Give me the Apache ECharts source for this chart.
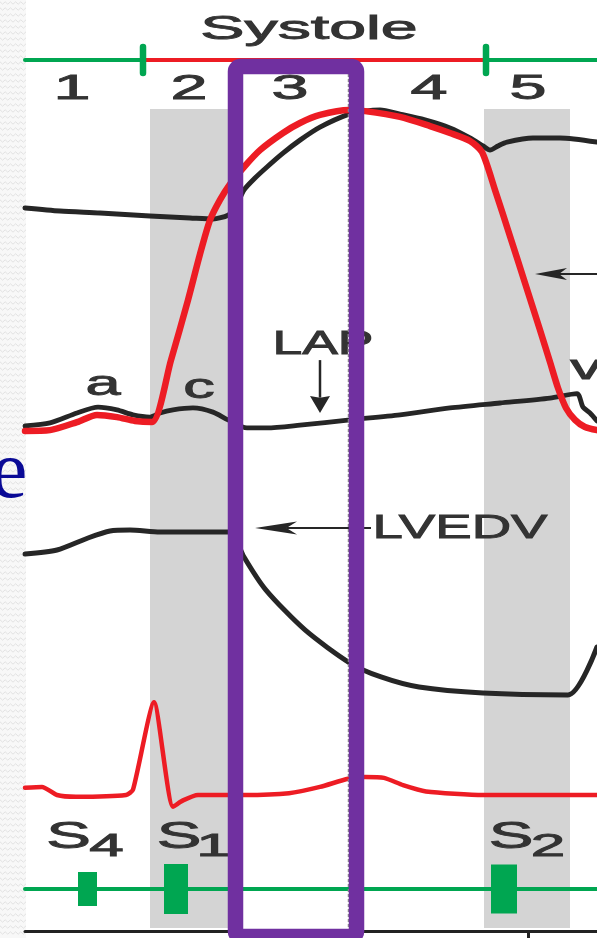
<!DOCTYPE html>
<html>
<head>
<meta charset="utf-8">
<script src="https://cdn.jsdelivr.net/npm/echarts@6/dist/echarts.min.js"></script>
<style>
  html, body { margin: 0; padding: 0; background: #ffffff; }
  #chart { width: 597px; height: 938px; }
</style>
</head>
<body>
<div id="chart"></div>
<script>
// ---- time base (arbitrary units across one cardiac cycle) ----
const T_MAX = 572;

// systole boundaries on the phase bar (mitral closure -> aortic closure)
const systole = [118, 461];
// isovolumic phases (grey bands): contraction and relaxation
const isoBands = [[125, 203], [459, 545]];
// highlighted phase (rapid ejection)
const highlight = [203, 324];

// phase numbers and their positions
const phaseNames = ['1', '2', '3', '4', '5'];
const phaseT = [47, 164, 265, 404, 503];

// pressures (mmHg)
const aorticPressure = [
  [0, 84.6], [35, 83.5], [75, 82.8], [125, 81.7], [165, 81.0], [188, 80.6],
  [203, 82.0], [210, 84.5], [219, 91.1], [230, 95.4], [242, 99.4], [258, 104.4], [275, 109.1],
  [295, 113.8], [324, 118.5], [340, 119.6], [355, 120.0], [375, 118.5], [400, 116.4],
  [425, 113.5], [445, 109.9], [458, 107.0], [465, 105.5], [473, 107.0], [482, 108.4],
  [508, 109.9], [535, 109.9], [572, 108.4]
];
const atrialPressure = [
  [0, 5.8], [25, 6.9], [52, 10.5], [73, 12.6], [92, 11.6], [108, 9.8], [125, 9.0],
  [135, 10.5], [148, 11.6], [168, 12.3], [188, 10.8], [203, 8.0], [222, 5.1], [242, 5.1],
  [275, 6.1], [325, 8.0], [375, 9.8], [425, 12.3], [475, 14.1], [525, 15.9], [552, 17.5],
  [558, 12.6], [565, 10.5], [572, 7.6]
];
const ventricularPressure = [
  [0, 4.0], [25, 4.3], [52, 7.2], [72, 9.8], [92, 9.0], [110, 7.6], [127, 7.2],
  [146, 29.6], [163, 51.3], [175, 67.9], [185, 80.2], [195, 87.5], [205, 93.2],
  [219, 99.4], [235, 105.5], [258, 111.7], [275, 115.3], [295, 118.2], [324, 120.0],
  [340, 119.6], [375, 117.5], [405, 114.2], [425, 111.7], [445, 108.8], [457, 104.8],
  [470, 91.1], [485, 74.4], [500, 57.5], [515, 40.5], [525, 28.9], [533, 19.5],
  [541, 12.3], [550, 8.0], [560, 5.4], [572, 4.3]
];

// left ventricular volume (mL)
const lvVolume = [
  [0, 110.8], [32, 112.5], [63, 117.5], [85, 120.4], [105, 120.8], [135, 120.0],
  [203, 120.0], [211, 116.7], [219, 109.6], [241, 95.8], [280, 79.2], [325, 65.4],
  [356, 59.6], [394, 55.4], [458, 52.9], [543, 52.1], [572, 72.1]
];

// ECG (mV)
const ecg = [
  [0, 0.08], [17, 0.09], [32, 0.0], [51, -0.02], [101, 0.0], [108, 0.06], [129, 1.03],
  [148, -0.13], [158, -0.06], [173, 0.0], [219, 0.0], [264, 0.02], [295, 0.09],
  [323, 0.18], [340, 0.20], [359, 0.19], [378, 0.11], [401, 0.04], [458, 0.0], [572, 0.0]
];

// heart sounds: [start, end, amplitude]
const heartSounds = [[53, 72, 17], [139, 163, 25], [466, 492, 24.5]];
const soundNames = ['4', '1', '2'];

// time-axis marker
const timeTicks = [503];

const GREEN = '#00a651', RED = '#ed1c24', INK = '#262626', TEXT = '#333333';
const PURPLE = '#7030a0', BAND = '#d4d4d4';
const FONT = '"Liberation Sans", Arial, Helvetica, sans-serif';

const chart = echarts.init(document.getElementById('chart'));

const L = 25;
const grids = [
  { left: L, right: 0, top: 109, height: 819 }, // 0 bands
  { left: L, right: 0, top: 47, height: 26 },   // 1 phase bar
  { left: L, right: 0, top: 110, height: 332 }, // 2 pressure
  { left: L, right: 0, top: 508, height: 216 }, // 3 volume
  { left: L, right: 0, top: 660, height: 180 }, // 4 ecg
  { left: L, right: 0, top: 859, height: 60 },  // 5 heart sounds
  { left: L, right: 0, top: 900, height: 31 }   // 6 time axis
];
const yRanges = [[0, 1], [-1, 1], [0, 120], [40, 130], [-0.5, 1.5], [-30, 30], [0, 1]];

const xAxes = grids.map((g, i) => ({
  type: 'value', gridIndex: i, min: 0, max: T_MAX, show: i === 6,
  axisLine: { show: true, onZero: false, lineStyle: { color: '#222', width: 3 } },
  axisTick: { show: true, customValues: timeTicks, interval: 503, length: 10, lineStyle: { color: '#222', width: 3 } },
  axisLabel: { show: false }, splitLine: { show: false }
}));
const yAxes = yRanges.map((r, i) => ({
  type: 'value', gridIndex: i, min: r[0], max: r[1], show: false, splitLine: { show: false }
}));

function trace(name, grid, data, color, width, smooth) {
  return {
    name, type: 'line', xAxisIndex: grid, yAxisIndex: grid, data,
    symbol: 'none', smooth: smooth, clip: false, silent: true,
    lineStyle: { color, width, cap: 'round', join: 'round' }
  };
}

const series = [
  {
    type: 'custom', xAxisIndex: 0, yAxisIndex: 0, data: isoBands, silent: true, z: 1,
    encode: { x: [0, 1] },
    renderItem: (params, api) => {
      const x0 = api.coord([api.value(0), 0])[0];
      const x1 = api.coord([api.value(1), 0])[0];
      const cs = params.coordSys;
      return { type: 'rect', shape: { x: x0, y: cs.y, width: x1 - x0, height: cs.height }, style: { fill: BAND } };
    }
  },
  trace('diastole-a', 1, [[0, 0], [systole[0], 0]], GREEN, 4, false),
  trace('systole', 1, [[systole[0], 0], [systole[1], 0]], RED, 4, false),
  trace('diastole-b', 1, [[systole[1], 0], [T_MAX, 0]], GREEN, 4, false),
  trace('mark-a', 1, [[systole[0], -1], [systole[0], 1]], GREEN, 6.5, false),
  trace('mark-b', 1, [[systole[1], -1], [systole[1], 1]], GREEN, 6.5, false),
  trace('Aortic pressure', 2, aorticPressure, INK, 5, 0.25),
  trace('LAP', 2, atrialPressure, INK, 4.8, 0.25),
  trace('LVP', 2, ventricularPressure, RED, 6.5, 0.25),
  trace('LV volume', 3, lvVolume, INK, 5, 0.25),
  trace('ECG', 4, ecg, RED, 4.5, 0.2),
  trace('phono', 5, [[0, 0], [T_MAX, 0]], GREEN, 4, false),
  {
    type: 'custom', xAxisIndex: 5, yAxisIndex: 5, data: heartSounds, silent: true, z: 3,
    encode: { x: [0, 1], y: 2 },
    renderItem: (params, api) => {
      const a = api.coord([api.value(0), api.value(2)]);
      const b = api.coord([api.value(1), -api.value(2)]);
      return { type: 'rect', shape: { x: a[0], y: a[1], width: b[0] - a[0], height: b[1] - a[1] }, style: { fill: GREEN } };
    }
  }
];

chart.setOption({
  animation: false,
  backgroundColor: '#ffffff',
  grid: grids, xAxis: xAxes, yAxis: yAxes, series
});

// ---- annotations ----
const px = (g, pt) => chart.convertToPixel({ gridIndex: g }, pt);

function txt(text, g, at, size, sx, color) {
  const p = px(g, at);
  const c = color || TEXT;
  return {
    type: 'text', x: p[0], y: p[1], scaleX: sx, z: 60,
    style: {
      text, font: size + 'px ' + FONT, fill: c, stroke: c, lineWidth: 0.9,
      align: 'center', verticalAlign: 'middle', textAlign: 'center', textVerticalAlign: 'middle'
    }
  };
}

function arrow(g, from, to, headLen, headHalf, notch, width) {
  const a = px(g, from), b = px(g, to);
  const dx = b[0] - a[0], dy = b[1] - a[1], len = Math.hypot(dx, dy);
  const ux = dx / len, uy = dy / len, nx = -uy, ny = ux;
  const back = [b[0] - ux * headLen, b[1] - uy * headLen];
  const nb = [b[0] - ux * headLen * notch, b[1] - uy * headLen * notch];
  return [
    { type: 'polyline', z: 60, shape: { points: [a, nb] }, style: { stroke: INK, lineWidth: width, fill: 'none' } },
    { type: 'polygon', z: 60, shape: { points: [b, [back[0] + nx * headHalf, back[1] + ny * headHalf], nb, [back[0] - nx * headHalf, back[1] - ny * headHalf]] }, style: { fill: INK } }
  ];
}

const els = [];

// textured slide margin on the left
els.push({ type: 'rect', z: 0, shape: { x: 0, y: 0, width: 26, height: 938 }, style: { fill: '#f8f8f8' } });
for (let y = 3; y < 938; y += 6) {
  const pts = [];
  for (let i = 0; i <= 10; i++) pts.push([i * 2.6, y + (i % 2 ? 1.2 : -1.2)]);
  els.push({ type: 'polyline', z: 0, shape: { points: pts }, style: { stroke: '#dcdcdc', lineWidth: 0.8, fill: 'none' } });
}
els.push({
  type: 'text', x: -9, y: 475, z: 5,
  style: { text: 'e', font: '82px "Liberation Serif", "Times New Roman", serif', fill: '#0a0a96', align: 'left', verticalAlign: 'middle', textAlign: 'left', textVerticalAlign: 'middle' }
});

// phase bar titles
els.push(txt('Systole', 1, [284, 2.35], 34, 1.95));
phaseNames.forEach((n, i) => els.push(txt(n, 1, [phaseT[i], -2.23], 35, 1.9)));

// pressure annotations
els.push(txt('a', 2, [78, 20.6], 35, 1.8));
els.push(txt('c', 2, [174, 19.5], 35, 1.8));
els.push(txt('v', 2, [561, 26.4], 35, 1.8));
els.push(txt('LAP', 2, [298, 35.1], 33, 1.62));
els.push(...arrow(2, [295, 29.6], [295, 10.5], 17, 10, 0.9, 2.5));
els.push(...arrow(2, [T_MAX, 60.7], [510, 60.7], 32, 6, 0.75, 2));

// volume annotation
els.push(txt('LVEDV', 3, [435, 121.25], 33.5, 1.63));
els.push(...arrow(3, [346, 121.7], [230, 121.7], 42, 6.5, 0.75, 2));

// heart sound labels
const sT = [43.5, 154, 486], subT = [81.5, 188.5, 523];
soundNames.forEach((n, i) => {
  els.push(txt('S', 5, [sT[i], 51], 36, 1.86));
  els.push(txt(n, 5, [subT[i], 42], 31, 2.0));
});

// highlighted phase frame
const xa = px(2, [highlight[0], 0])[0];
const xb = px(2, [highlight[1], 0])[0];
els.push({ type: 'line', z: 99, shape: { x1: xb - 0.5, y1: 74, x2: xb - 0.5, y2: 930 }, style: { stroke: '#8a8a8a', lineWidth: 1.5, lineDash: [3, 2] } });
els.push({ type: 'rect', z: 100, shape: { x: xa + 7.5, y: 66.5, width: xb - xa, height: 870, r: 5 }, style: { fill: 'none', stroke: PURPLE, lineWidth: 15.5 } });

chart.setOption({ graphic: { elements: els } });
</script>
</body>
</html>
